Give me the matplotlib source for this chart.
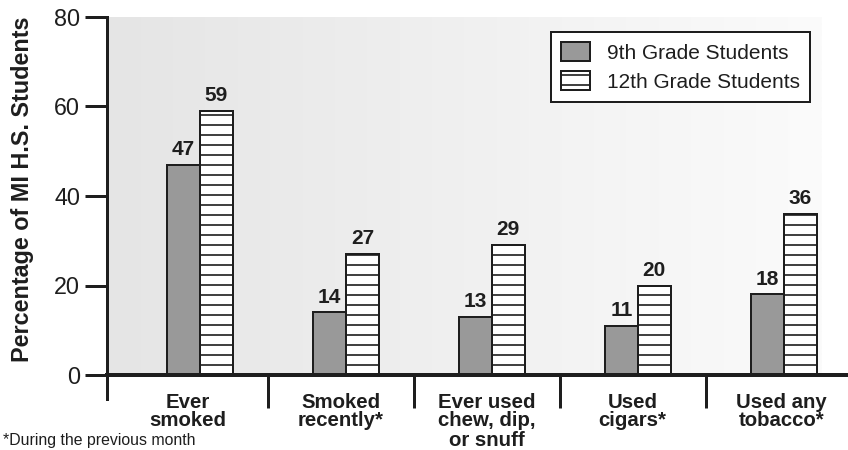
import numpy as np
import matplotlib
matplotlib.use('Agg')
import matplotlib.pyplot as plt
from matplotlib.colors import LinearSegmentedColormap

categories = ['Ever\nsmoked', 'Smoked\nrecently*', 'Ever used\nchew, dip,\nor snuff',
              'Used\ncigars*', 'Used any\ntobacco*']
grade9 = [47, 14, 13, 11, 18]
grade12 = [59, 27, 29, 20, 36]
yticks = [0, 20, 40, 60, 80]

plt.rcParams['font.family'] = ['Liberation Sans', 'DejaVu Sans']
plt.rcParams['hatch.color'] = '#1e1e1e'
plt.rcParams['hatch.linewidth'] = 1.0

DPI = 120
ink = '#1e1e1e'
fig = plt.figure(figsize=(848 / DPI, 450 / DPI), dpi=DPI)
ax = fig.add_axes([107 / 848, 75 / 450, 741 / 848, 358 / 450])

x = np.arange(len(categories))
w = 0.226
x0, x1 = -0.637, 4.44

# light grey gradient behind the bars
grad = np.linspace(0, 1, 256).reshape(1, -1)
cmap = LinearSegmentedColormap.from_list('bg', ['#e5e5e5', '#fbfbfb'])
ax.imshow(grad, extent=[x0, 4.26, 0, 80], aspect='auto', cmap=cmap, zorder=0)

bars9 = ax.bar(x - w / 2, grade9, w, color='#999999', edgecolor=ink, linewidth=1.2,
               label='9th Grade Students', zorder=2)
bars12 = ax.bar(x + w / 2, grade12, w, color='white', edgecolor=ink, linewidth=1.2,
                hatch='--', label='12th Grade Students', zorder=2)

for bars, vals in [(bars9, grade9), (bars12, grade12)]:
    for b, v in zip(bars, vals):
        ax.annotate(str(v), (b.get_x() + b.get_width() / 2, v), xytext=(0, 3.5),
                    textcoords='offset points', ha='center', va='bottom',
                    fontsize=12.5, fontweight='bold', color=ink)

ax.set_xlim(x0, x1)
ax.set_ylim(0, 80)

for s in ['top', 'right']:
    ax.spines[s].set_visible(False)
ax.spines['left'].set_linewidth(1.8)
ax.spines['left'].set_color(ink)
ax.spines['left'].set_bounds(-5.4, 80)
ax.spines['bottom'].set_linewidth(2.4)
ax.spines['bottom'].set_color(ink)

ax.set_yticks(yticks)
ax.tick_params(axis='y', length=13.2, width=1.8, pad=3, labelsize=14, colors=ink)

sep = x[:-1] + 0.465
bounds = np.concatenate([[x0], sep, [4.5]])
label_pos = (bounds[:-1] + bounds[1:]) / 2
ax.set_xticks(label_pos)
ax.set_xticklabels(categories, fontweight='bold', fontsize=12.2, linespacing=1.0, color=ink)
ax.tick_params(axis='x', which='major', length=0, pad=10.5)
ax.set_xticks(sep, minor=True)
ax.tick_params(axis='x', which='minor', length=19.8, width=1.8, color=ink)

ax.set_ylabel('Percentage of MI H.S. Students', fontsize=14, fontweight='bold', color=ink)
ax.yaxis.set_label_coords(-0.099, 0.52)

leg = ax.legend(loc='upper right', bbox_to_anchor=(0.949, 0.958), borderaxespad=0,
                fancybox=False, edgecolor=ink, framealpha=1, fontsize=12.5,
                handlelength=1.4, handleheight=1.0, handletextpad=0.8,
                labelspacing=0.4, borderpad=0.5)
leg.get_frame().set_linewidth(1.2)
for t in leg.get_texts():
    t.set_color(ink)

fig.text(0.003, 0.004, '*During the previous month', fontsize=9.5, va='bottom', ha='left',
         color=ink)

fig.savefig('out.png', dpi=DPI)
